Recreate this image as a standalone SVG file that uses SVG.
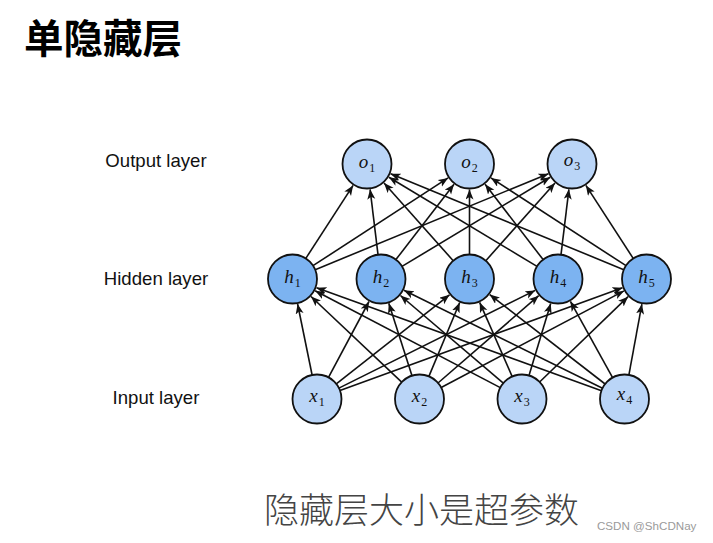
<svg xmlns="http://www.w3.org/2000/svg" width="713" height="543" viewBox="0 0 713 543">
<style>
.lbl{font-family:"Liberation Sans",Arial,sans-serif;font-size:18.6px;fill:#111;text-anchor:middle}
.nl{font-family:"Liberation Serif","Times New Roman",serif;font-style:italic;font-size:19px;fill:#111;text-anchor:middle}
.sub{font-style:normal;font-size:12px}
.io{fill:#bad5f7;stroke:#111;stroke-width:1.8}
.hid{fill:#7cb3f1;stroke:#111;stroke-width:1.8}
.edge line{stroke:#111;stroke-width:1.6;marker-end:url(#ah)}
</style>
<defs>
<marker id="ah" markerUnits="userSpaceOnUse" markerWidth="11" markerHeight="9" refX="10" refY="4" orient="auto">
<path d="M0,0 L10,4 L0,8 L2.5,4 z" fill="#111"/>
</marker>
</defs>
<rect width="713" height="543" fill="#fff"/>
<text x="24" y="53" font-family="'Noto Sans CJK SC',sans-serif" font-weight="bold" font-size="39.5" fill="#000">单隐藏层</text>
<text class="lbl" x="156" y="167">Output layer</text>
<text class="lbl" x="156" y="285">Hidden layer</text>
<text class="lbl" x="156" y="404">Input layer</text>
<g id="connectors" class="edge">
<line x1="312.1" y1="375.0" x2="297.6" y2="304.0"/>
<line x1="328.5" y1="377.4" x2="369.0" y2="301.5"/>
<line x1="336.3" y1="383.9" x2="449.5" y2="294.8"/>
<line x1="338.9" y1="388.1" x2="535.2" y2="290.4"/>
<line x1="340.0" y1="390.6" x2="622.5" y2="287.7"/>
<line x1="401.7" y1="382.2" x2="311.0" y2="296.5"/>
<line x1="412.0" y1="375.7" x2="388.8" y2="303.3"/>
<line x1="428.9" y1="376.4" x2="459.7" y2="302.5"/>
<line x1="438.0" y1="383.0" x2="538.7" y2="295.7"/>
<line x1="441.2" y1="387.5" x2="624.0" y2="290.9"/>
<line x1="500.3" y1="387.6" x2="315.1" y2="290.8"/>
<line x1="503.3" y1="383.1" x2="400.4" y2="295.5"/>
<line x1="512.2" y1="376.6" x2="479.7" y2="302.4"/>
<line x1="529.0" y1="375.5" x2="550.7" y2="303.4"/>
<line x1="539.6" y1="382.0" x2="628.1" y2="296.7"/>
<line x1="601.5" y1="390.7" x2="316.5" y2="287.7"/>
<line x1="602.5" y1="388.2" x2="403.9" y2="290.3"/>
<line x1="605.1" y1="384.0" x2="489.7" y2="294.6"/>
<line x1="612.6" y1="377.6" x2="570.4" y2="301.3"/>
<line x1="628.9" y1="374.9" x2="641.9" y2="304.1"/>
<line x1="305.8" y1="258.4" x2="353.1" y2="185.4"/>
<line x1="313.0" y1="265.7" x2="448.1" y2="177.9"/>
<line x1="315.2" y1="269.7" x2="548.4" y2="173.7"/>
<line x1="378.0" y1="254.7" x2="370.1" y2="189.3"/>
<line x1="395.9" y1="259.6" x2="454.0" y2="184.2"/>
<line x1="402.0" y1="266.4" x2="550.2" y2="177.2"/>
<line x1="453.2" y1="260.7" x2="384.0" y2="183.0"/>
<line x1="469.5" y1="254.5" x2="469.5" y2="189.5"/>
<line x1="485.8" y1="260.7" x2="555.0" y2="183.0"/>
<line x1="537.0" y1="266.4" x2="388.9" y2="177.2"/>
<line x1="543.1" y1="259.6" x2="485.1" y2="184.2"/>
<line x1="561.0" y1="254.7" x2="568.9" y2="189.3"/>
<line x1="623.8" y1="269.7" x2="390.6" y2="173.7"/>
<line x1="626.0" y1="265.7" x2="490.9" y2="177.9"/>
<line x1="633.2" y1="258.4" x2="585.9" y2="185.4"/>
</g>
<g id="o1"><circle class="io" cx="367" cy="164" r="24.5"/><text class="nl" x="367" y="168">o<tspan class="sub" dx="1" dy="4">1</tspan></text></g>
<g id="o2"><circle class="io" cx="469.5" cy="164" r="24.5"/><text class="nl" x="469.5" y="168">o<tspan class="sub" dx="1" dy="4">2</tspan></text></g>
<g id="o3"><circle class="io" cx="572" cy="164" r="24.5"/><text class="nl" x="572" y="166">o<tspan class="sub" dx="1" dy="4">3</tspan></text></g>
<g id="h1"><circle class="hid" cx="292.5" cy="279" r="24.5"/><text class="nl" x="292.5" y="283">h<tspan class="sub" dx="1" dy="4">1</tspan></text></g>
<g id="h2"><circle class="hid" cx="381" cy="279" r="24.5"/><text class="nl" x="381" y="283">h<tspan class="sub" dx="1" dy="4">2</tspan></text></g>
<g id="h3"><circle class="hid" cx="469.5" cy="279" r="24.5"/><text class="nl" x="469.5" y="283">h<tspan class="sub" dx="1" dy="4">3</tspan></text></g>
<g id="h4"><circle class="hid" cx="558" cy="279" r="24.5"/><text class="nl" x="558" y="283">h<tspan class="sub" dx="1" dy="4">4</tspan></text></g>
<g id="h5"><circle class="hid" cx="646.5" cy="279" r="24.5"/><text class="nl" x="646.5" y="283">h<tspan class="sub" dx="1" dy="4">5</tspan></text></g>
<g id="x1"><circle class="io" cx="317" cy="399" r="24.5"/><text class="nl" x="317" y="402">x<tspan class="sub" dx="1" dy="4">1</tspan></text></g>
<g id="x2"><circle class="io" cx="419.5" cy="399" r="24.5"/><text class="nl" x="419.5" y="402">x<tspan class="sub" dx="1" dy="4">2</tspan></text></g>
<g id="x3"><circle class="io" cx="522" cy="399" r="24.5"/><text class="nl" x="522" y="402">x<tspan class="sub" dx="1" dy="4">3</tspan></text></g>
<g id="x4"><circle class="io" cx="624.5" cy="399" r="24.5"/><text class="nl" x="624.5" y="400">x<tspan class="sub" dx="1" dy="4">4</tspan></text></g>
<text x="264" y="523" font-family="'Noto Sans CJK SC',sans-serif" font-size="35" font-weight="300" fill="#444">隐藏层大小是超参数</text>
<text x="597" y="530" font-family="'Liberation Sans',Arial,sans-serif" font-size="11.6" fill="#9a9a9a">CSDN @ShCDNay</text>
</svg>
